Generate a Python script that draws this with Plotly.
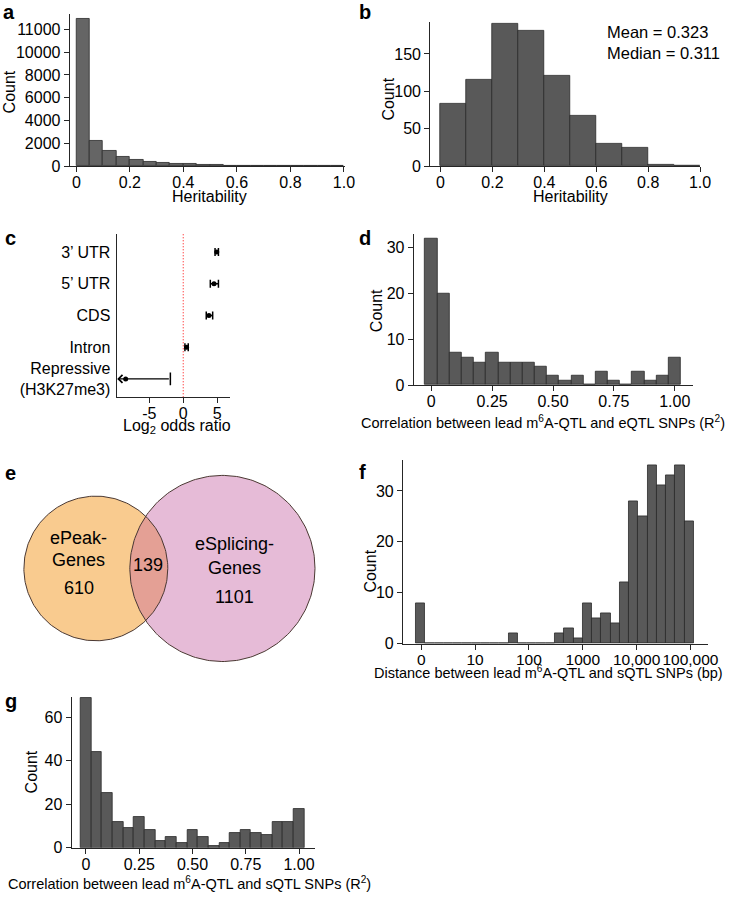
import numpy as np
import plotly.graph_objects as go

W, H = 735, 900
FONT = "Liberation Sans, Arial, sans-serif"

# ---------------- data ----------------
# a: heritability histogram (all peaks)
a_counts = [12900, 2200, 1330, 840, 580, 410, 320, 230, 150, 90,
            70, 55, 45, 35, 30, 25, 20, 15, 12, 10]
a_bin_start, a_bin_width = 0.0, 0.05
a_ytick_vals = [0, 2000, 4000, 6000, 8000, 10000, 12000]
a_ytick_text = ["0", "2000", "4000", "6000", "8000", "10000", "11000"]

# b: heritability histogram (subset)
b_counts = [83, 116, 190, 181, 121, 67, 30, 24, 2, 1]
b_bin_start, b_bin_width = 0.0, 0.1
b_mean, b_median = 0.323, 0.311

# c: enrichment (log2 odds ratio)
c_labels = ["Repressive<br>(H3K27me3)", "Intron", "CDS", "5’ UTR", "3’ UTR"]
c_log2or = [-8.5, 0.49, 3.8, 4.55, 4.95]
c_ci_low = [None, 0.25, 3.4, 4.0, 4.7]      # None = truncated beyond axis
c_ci_high = [-1.9, 0.74, 4.35, 5.2, 5.2]
c_xticks = [-5, 0, 5]
c_xtick_text = ["-5", "0", "5"]

# d: correlation m6A-QTL vs eQTL
d_counts = [32, 20, 7, 6, 5, 7, 5, 5, 5, 4, 2, 1, 2, 0, 3, 1, 0, 3, 1, 2, 6]
d_bin_start, d_bin_width = -0.025, 0.05

# e: Venn
e_only_a, e_both, e_only_b = 610, 139, 1101
e_name_a = ["ePeak-", "Genes"]
e_name_b = ["eSplicing-", "Genes"]

# f: distance histogram on log10(bp + 1)
f_counts = [8, 0, 0, 0, 0, 0, 0, 0, 0, 0, 2, 0, 0, 0, 0, 2, 3, 1, 8, 5,
            6, 4, 12, 28, 25, 35, 31, 33, 35, 24]
f_bin_start, f_bin_width = -0.098, 0.172
f_tick_bp = [0, 10, 100, 1000, 10000, 100000]
f_tick_text = ["0", "10", "100", "1000", "10,000", "100,000"]

# g: correlation m6A-QTL vs sQTL
g_counts = [69, 44, 25, 12, 9, 14, 8, 3, 5, 2, 8, 5, 1, 2, 7, 8, 7, 6, 12, 12, 18]
g_bin_start, g_bin_width = -0.025, 0.05

r_ticks = [0, 0.25, 0.5, 0.75, 1.0]
r_tick_text = ["0", "0.25", "0.50", "0.75", "1.00"]
h_ticks = [0, 0.2, 0.4, 0.6, 0.8, 1.0]
h_tick_text = ["0", "0.2", "0.4", "0.6", "0.8", "1.0"]

# ---------------- helpers ----------------
def fx(p):
    return p / W


def fy(p):
    return 1 - p / H


LINE = "#262626"


def xax(left, right, rng, anchor, tickvals=None, ticktext=None, size=16):
    return dict(domain=[fx(left), fx(right)], range=rng, anchor=anchor,
                showline=True, linecolor=LINE, linewidth=1, ticks="outside",
                ticklen=5, tickcolor=LINE, showgrid=False, zeroline=False,
                tickvals=tickvals, ticktext=ticktext, tickangle=0,
                ticklabelstandoff=-3,
                tickfont=dict(family=FONT, size=size, color="black"))


def yax(bottom, top, rng, anchor, tickvals=None, ticktext=None, size=16):
    return dict(domain=[fy(bottom), fy(top)], range=rng, anchor=anchor,
                showline=True, linecolor=LINE, linewidth=1, ticks="outside",
                ticklen=5, tickcolor=LINE, showgrid=False, zeroline=False,
                tickvals=tickvals, ticktext=ticktext,
                tickfont=dict(family=FONT, size=size, color="black"))


def hist_trace(counts, start, width, xa, ya, color="#595959"):
    n = len(counts)
    centers = start + width / 2 + width * np.arange(n)
    return go.Bar(x=centers, y=counts, width=width, xaxis=xa, yaxis=ya,
                  marker=dict(color=color, line=dict(color="#2a2a2a", width=0.8)),
                  hoverinfo="skip", showlegend=False)


fig = go.Figure()
annotations = []
shapes = []


def title(text, x, y, size=16, angle=0):
    annotations.append(dict(text=text, x=fx(x), y=fy(y), xref="paper", yref="paper",
                            showarrow=False, textangle=angle, xanchor="center",
                            yanchor="middle",
                            font=dict(family=FONT, size=size, color="black")))


# ---------------- panel a ----------------
fig.add_trace(hist_trace(a_counts, a_bin_start, a_bin_width, "x", "y", "#656565"))
# ---------------- panel b ----------------
fig.add_trace(hist_trace(b_counts, b_bin_start, b_bin_width, "x2", "y2"))
# ---------------- panel c ----------------
shapes.append(dict(type="line", xref="x3", yref="y3 domain", x0=0, x1=0, y0=0, y1=1,
                   layer="below", line=dict(color="red", width=1, dash="1px,2px")))
idx = [i for i in range(len(c_labels)) if c_ci_low[i] is not None]
fig.add_trace(go.Scatter(
    x=[c_log2or[i] for i in idx], y=[c_labels[i] for i in idx], mode="markers",
    xaxis="x3", yaxis="y3", marker=dict(color="black", size=5),
    error_x=dict(type="data", symmetric=False,
                 array=[c_ci_high[i] - c_log2or[i] for i in idx],
                 arrayminus=[c_log2or[i] - c_ci_low[i] for i in idx],
                 color="black", thickness=1.5, width=4),
    hoverinfo="skip", showlegend=False))
C_MIN = -9.85
for i in range(len(c_labels)):
    if c_ci_low[i] is None:
        fig.add_trace(go.Scatter(x=[c_log2or[i]], y=[c_labels[i]], mode="markers",
                                 xaxis="x3", yaxis="y3",
                                 marker=dict(color="black", size=5),
                                 hoverinfo="skip", showlegend=False))
        fig.add_trace(go.Scatter(x=[c_ci_high[i]], y=[c_labels[i]], mode="markers",
                                 xaxis="x3", yaxis="y3",
                                 marker=dict(symbol="line-ns", size=9,
                                             line=dict(color="black", width=1.5)),
                                 hoverinfo="skip", showlegend=False))
        annotations.append(dict(x=C_MIN + 0.1, y=c_labels[i], ax=c_ci_high[i], ay=c_labels[i],
                                xref="x3", yref="y3", axref="x3", ayref="y3", text="",
                                showarrow=True, arrowhead=4, arrowsize=1.3,
                                arrowwidth=1.2, arrowcolor="black", standoff=0))
# ---------------- panel d ----------------
fig.add_trace(hist_trace(d_counts, d_bin_start, d_bin_width, "x4", "y4"))
# ---------------- panel e (Venn) ----------------
n_a = e_only_a + e_both
n_b = e_only_b + e_both
k = 94 / np.sqrt(n_b)
r1, r2 = k * np.sqrt(n_a), k * np.sqrt(n_b)
cx1, cx2, cy = 97.3, 225.8, 574.2
dist = cx2 - cx1
theta = np.linspace(0, 2 * np.pi, 240)
a_ = (dist ** 2 + r1 ** 2 - r2 ** 2) / (2 * dist)
alpha = np.arccos(a_ / r1)
beta = np.arccos((dist - a_) / r2)
t1 = np.linspace(-alpha, alpha, 80)
t2 = np.linspace(np.pi - beta, np.pi + beta, 80)
lens_x = np.concatenate([cx1 + r1 * np.cos(t1), cx2 + r2 * np.cos(t2)])
lens_y = np.concatenate([cy + r1 * np.sin(t1), cy + r2 * np.sin(t2)])
for (cx, r, col) in [(cx1, r1, "#F9CB8F"), (cx2, r2, "#E6BBD7")]:
    fig.add_trace(go.Scatter(x=cx + r * np.cos(theta), y=cy + r * np.sin(theta),
                             fill="toself", fillcolor=col, mode="lines",
                             line=dict(width=0), xaxis="x5", yaxis="y5",
                             hoverinfo="skip", showlegend=False))
fig.add_trace(go.Scatter(x=lens_x, y=lens_y, fill="toself", fillcolor="#E4A095",
                         mode="lines", line=dict(width=0), xaxis="x5", yaxis="y5",
                         hoverinfo="skip", showlegend=False))
for (cx, r) in [(cx1, r1), (cx2, r2)]:
    fig.add_trace(go.Scatter(x=cx + r * np.cos(theta), y=cy + r * np.sin(theta),
                             mode="lines", line=dict(color="#4a3832", width=1),
                             xaxis="x5", yaxis="y5", hoverinfo="skip", showlegend=False))


def vtext(text, x, y, size=18):
    annotations.append(dict(text=text, x=x, y=y, xref="x5", yref="y5", showarrow=False,
                            xanchor="center", yanchor="middle",
                            font=dict(family=FONT, size=size, color="black")))


vtext(e_name_a[0], 80, 543.5)
vtext(e_name_a[1], 80, 565.5)
vtext(str(e_only_a), 80, 593.5)
vtext(str(e_both), 150.7, 571)
vtext(e_name_b[0], 238.5, 549.5)
vtext(e_name_b[1], 238.5, 573.5)
vtext(str(e_only_b), 238.5, 603.5)
# ---------------- panel f ----------------
fig.add_trace(hist_trace(f_counts, f_bin_start, f_bin_width, "x6", "y6"))
f_tick_vals = [0.0 if v == 0 else float(np.log10(v)) for v in f_tick_bp]
# ---------------- panel g ----------------
fig.add_trace(hist_trace(g_counts, g_bin_start, g_bin_width, "x7", "y7"))

# ---------------- axes ----------------
layout = dict(
    xaxis=xax(70.7, 350.0, [-0.025, 1.003], "y", h_ticks, h_tick_text),
    yaxis=yax(167.7, 14, [0, 13370], "x", a_ytick_vals, a_ytick_text),
    xaxis2=xax(436.7, 710.7, [-0.04, 1.0], "y2", h_ticks, h_tick_text),
    yaxis2=yax(167.7, 22, [0, 193], "x2", [0, 50, 100, 150], None),
    xaxis3=xax(118.3, 233.3, [-9.85, 6.88], "y3", c_xticks, c_xtick_text),
    yaxis3=dict(domain=[fy(401.3), fy(236)], range=[-0.58, 4.58], anchor="x3",
                type="category", categoryorder="array", categoryarray=c_labels,
                showline=True, linecolor=LINE, linewidth=1, ticks="",
                showgrid=False, zeroline=False, ticklabelstandoff=2,
                tickfont=dict(family=FONT, size=16, color="black")),
    xaxis4=xax(420, 703.3, [-0.072, 1.074], "y4", r_ticks, r_tick_text),
    yaxis4=yax(389, 236, [0, 33.1], "x4", [0, 10, 20, 30], None),
    xaxis5=dict(domain=[0, fx(370)], range=[0, 370], visible=False, anchor="y5"),
    yaxis5=dict(domain=[fy(700), fy(450)], range=[700, 450], visible=False, anchor="x5"),
    xaxis6=xax(409, 719, [-0.341, 5.33], "y6", f_tick_vals, f_tick_text, size=15.5),
    yaxis6=yax(650.3, 465, [0, 36], "x6", [0, 10, 20, 30], None),
    xaxis7=xax(72.7, 320, [-0.0675, 1.076], "y7", r_ticks, r_tick_text),
    yaxis7=yax(856.3, 704, [0, 69.3], "x7", [0, 20, 40, 60], None),
)

# ---------------- titles ----------------
title("Count", 9.5, 93, angle=-90)
title("Heritability", 213, 198)
title("Count", 393.5, 100, angle=-90)
title("Heritability", 579, 198)
title("Log<sub>2</sub> odds ratio", 180, 431)
title("Count", 383, 314, angle=-90)
title("Correlation between lead m<sup>6</sup>A-QTL and eQTL SNPs (R<sup>2</sup>)", 551.5, 426, size=14.5)
title("Count", 376, 577, angle=-90)
title("Distance between lead m<sup>6</sup>A-QTL and sQTL SNPs (bp)", 557, 679, size=14.5)
title("Count", 31.7, 780, angle=-90)
title("Correlation between lead m<sup>6</sup>A-QTL and sQTL SNPs (R<sup>2</sup>)", 192, 892, size=14.5)

annotations.append(dict(text=f"Mean = {b_mean:.3f}<br>Median = {b_median:.3f}",
                        x=fx(614), y=fy(21), xref="paper", yref="paper", showarrow=False,
                        xanchor="left", yanchor="top", align="left",
                        font=dict(family=FONT, size=16.5, color="black")))

for lab, x, y in [("a", 1, 12), ("b", 362, 12), ("c", 3, 240), ("d", 362, 240),
                  ("e", 3, 478), ("f", 362, 477), ("g", 3, 708)]:
    annotations.append(dict(text=f"<b>{lab}</b>", x=fx(x), y=fy(y), xref="paper", yref="paper",
                            showarrow=False, xanchor="left", yanchor="middle",
                            font=dict(family=FONT, size=20, color="black")))

fig.update_layout(**layout)
fig.update_layout(width=W, height=H, margin=dict(l=0, r=0, t=0, b=0),
                  paper_bgcolor="white", plot_bgcolor="white", bargap=0,
                  annotations=annotations, shapes=shapes, showlegend=False)

fig.write_html("out.html", config={"displayModeBar": False},
               post_script="document.body.style.margin='0';")
